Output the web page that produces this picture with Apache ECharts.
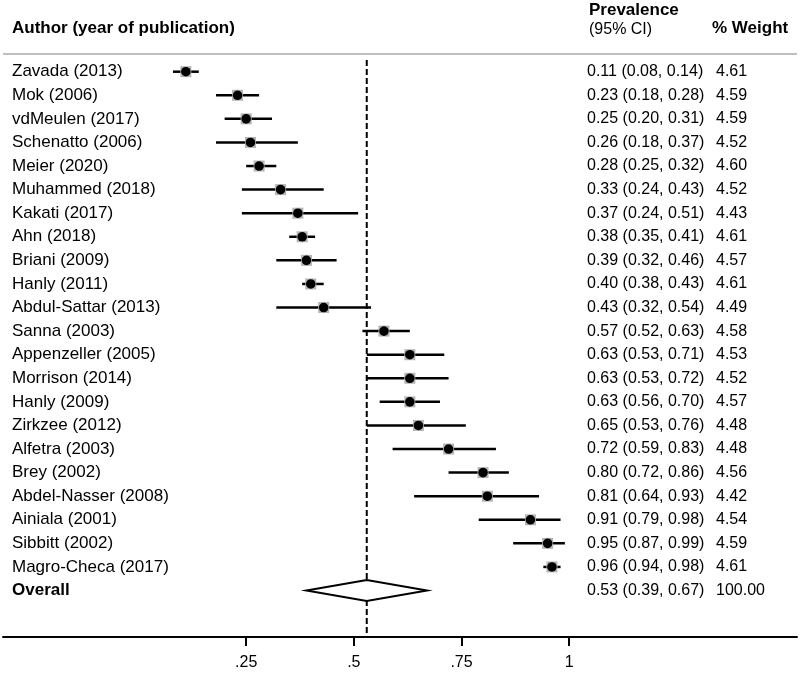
<!DOCTYPE html>
<html>
<head>
<meta charset="utf-8">
<script src="https://cdn.jsdelivr.net/npm/echarts@6/dist/echarts.min.js"></script>
<style>html,body{margin:0;padding:0;background:#fff}#c{width:800px;height:673px}</style>
</head>
<body>
<div id="c"></div>
<script>
const authors = ['Zavada (2013)','Mok (2006)','vdMeulen (2017)','Schenatto (2006)','Meier (2020)','Muhammed (2018)','Kakati (2017)','Ahn (2018)','Briani (2009)','Hanly (2011)','Abdul-Sattar (2013)','Sanna (2003)','Appenzeller (2005)','Morrison (2014)','Hanly (2009)','Zirkzee (2012)','Alfetra (2003)','Brey (2002)','Abdel-Nasser (2008)','Ainiala (2001)','Sibbitt (2002)','Magro-Checa (2017)'];
const prevalence = [0.11,0.23,0.25,0.26,0.28,0.33,0.37,0.38,0.39,0.40,0.43,0.57,0.63,0.63,0.63,0.65,0.72,0.80,0.81,0.91,0.95,0.96];
const ciLow = [0.08,0.18,0.20,0.18,0.25,0.24,0.24,0.35,0.32,0.38,0.32,0.52,0.53,0.53,0.56,0.53,0.59,0.72,0.64,0.79,0.87,0.94];
const ciHigh = [0.14,0.28,0.31,0.37,0.32,0.43,0.51,0.41,0.46,0.43,0.54,0.63,0.71,0.72,0.70,0.76,0.83,0.86,0.93,0.98,0.99,0.98];
const weights = ['4.61','4.59','4.59','4.52','4.60','4.52','4.43','4.61','4.57','4.61','4.49','4.58','4.53','4.52','4.57','4.48','4.48','4.56','4.42','4.54','4.59','4.61'];
const overallLabel = 'Overall';
const overall = [0.53, 0.39, 0.67];
const overallWeight = '100.00';
const tickValues = [0.25, 0.5, 0.75, 1];
const tickLabels = ['.25', '.5', '.75', '1'];

const FONT = 'Liberation Sans, Arial, sans-serif';
const NAME_X = 12, CI_X = 587, W_X = 716;
const NAME_FS = 17, FS = 16;

const rows = authors.map((a, i) => [i, prevalence[i], ciLow[i], ciHigh[i]]);
const nRows = authors.length;
const overallRow = [nRows, overall[0], overall[1], overall[2]];

function fmt(v){ return v.toFixed(2); }

const chart = echarts.init(document.getElementById('c'), null, {renderer: 'canvas'});
const option = {
  animation: false,
  backgroundColor: '#fff',
  grid: {left: 3, right: 3, top: 54, bottom: 36, containLabel: false},
  xAxis: {
    type: 'value', min: -0.3146, max: 1.529,
    splitLine: {show: false},
    axisLine: {show: true, onZero: false, lineStyle: {color: '#000', width: 2}},
    axisTick: {show: true, customValues: tickValues, length: 9, lineStyle: {color: '#000', width: 2}},
    axisLabel: {show: true, customValues: tickValues, margin: 18, color: '#000', fontFamily: FONT, fontSize: 16,
      formatter: v => { const k = tickValues.findIndex(t => Math.abs(t - v) < 1e-9); return k >= 0 ? tickLabels[k] : ''; }}
  },
  yAxis: {type: 'value', inverse: true, min: -0.75, max: 23.97, show: false},
  graphic: [
    {type: 'text', x: 12, y: 28, style: {text: 'Author (year of publication)', font: 'bold 17px ' + FONT, fill: '#000', verticalAlign: 'middle'}},
    {type: 'text', x: 589, y: 10, style: {text: 'Prevalence', font: 'bold 17px ' + FONT, fill: '#000', verticalAlign: 'middle'}},
    {type: 'text', x: 589, y: 30, style: {text: '(95% CI)', font: '16px ' + FONT, fill: '#000', verticalAlign: 'middle'}},
    {type: 'text', x: 712, y: 28, style: {text: '% Weight', font: 'bold 17px ' + FONT, fill: '#000', verticalAlign: 'middle'}},
    {type: 'line', shape: {x1: 3, y1: 54, x2: 797, y2: 54}, style: {stroke: '#a8a8a8', lineWidth: 1.5}}
  ],
  series: [
    {
      type: 'line', data: [[overall[0], -0.5], [overall[0], 23.97]], symbol: 'none', silent: true,
      lineStyle: {color: '#000', width: 2, type: [6, 3]}, z: 1
    },
    {
      type: 'custom', data: rows, z: 3,
      renderItem: function (params, api) {
        const i = api.value(0);
        const pe = api.coord([api.value(1), i]);
        const lo = api.coord([api.value(2), i]);
        const hi = api.coord([api.value(3), i]);
        const y = pe[1];
        return {type: 'group', children: [
          {type: 'line', shape: {x1: lo[0], y1: y, x2: hi[0], y2: y}, style: {stroke: '#000', lineWidth: 2.5}},
          {type: 'rect', shape: {x: pe[0] - 5.5, y: y - 5.5, width: 11, height: 11}, style: {fill: '#b4b4b4'}},
          {type: 'circle', shape: {cx: pe[0], cy: y, r: 4.8}, style: {fill: '#000'}},
          {type: 'text', x: NAME_X, y: y, style: {text: authors[i], font: NAME_FS + 'px ' + FONT, fill: '#000', verticalAlign: 'middle'}},
          {type: 'text', x: CI_X, y: y, style: {text: fmt(api.value(1)) + ' (' + fmt(api.value(2)) + ', ' + fmt(api.value(3)) + ')', font: FS + 'px ' + FONT, fill: '#000', verticalAlign: 'middle'}},
          {type: 'text', x: W_X, y: y, style: {text: weights[i], font: FS + 'px ' + FONT, fill: '#000', verticalAlign: 'middle'}}
        ]};
      }
    },
    {
      type: 'custom', data: [overallRow], z: 4,
      renderItem: function (params, api) {
        const i = api.value(0);
        const pe = api.coord([api.value(1), i]);
        const lo = api.coord([api.value(2), i]);
        const hi = api.coord([api.value(3), i]);
        const y = pe[1], h = 10.5;
        return {type: 'group', children: [
          {type: 'polygon', shape: {points: [[lo[0], y], [pe[0], y - h], [hi[0], y], [pe[0], y + h]]}, style: {fill: '#fff', stroke: '#000', lineWidth: 2}},
          {type: 'text', x: NAME_X, y: y, style: {text: overallLabel, font: 'bold ' + NAME_FS + 'px ' + FONT, fill: '#000', verticalAlign: 'middle'}},
          {type: 'text', x: CI_X, y: y, style: {text: fmt(api.value(1)) + ' (' + fmt(api.value(2)) + ', ' + fmt(api.value(3)) + ')', font: FS + 'px ' + FONT, fill: '#000', verticalAlign: 'middle'}},
          {type: 'text', x: W_X, y: y, style: {text: overallWeight, font: FS + 'px ' + FONT, fill: '#000', verticalAlign: 'middle'}}
        ]};
      }
    }
  ]
};
chart.setOption(option);
</script>
</body>
</html>
